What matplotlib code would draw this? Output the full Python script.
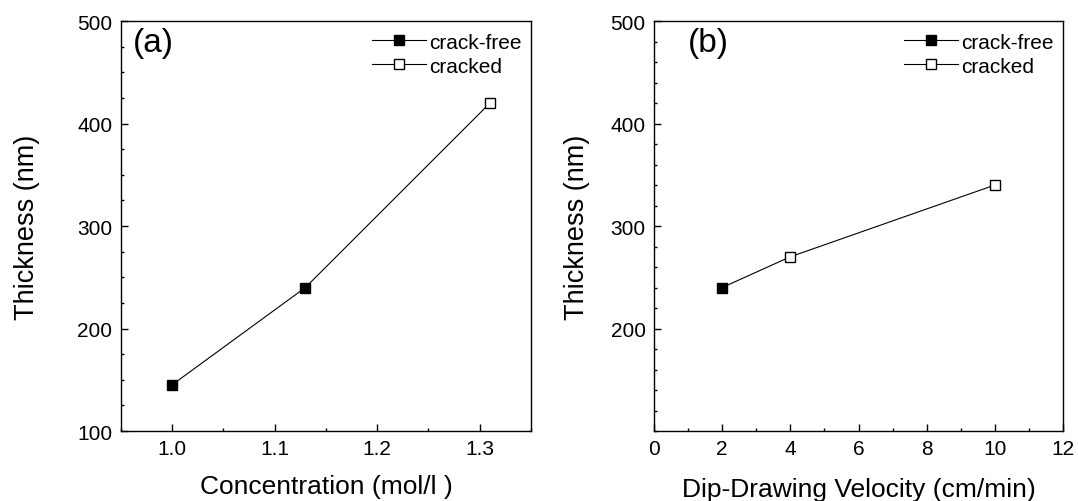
import matplotlib
matplotlib.use("Agg")
import matplotlib.pyplot as plt
from matplotlib.ticker import MultipleLocator, FixedLocator
from matplotlib.lines import Line2D

plt.rcParams['font.family'] = ['Liberation Sans', 'DejaVu Sans']

# Panel (a)
conc = [1.0, 1.13, 1.31]
thick_a = [145, 240, 420]
cracked_a = [False, False, True]

# Panel (b)
vel = [2, 4, 10]
thick_b = [240, 270, 340]
cracked_b = [False, True, True]

fig = plt.figure(figsize=(10.78, 5.02), dpi=100)
axa = fig.add_axes([0.112, 0.1394, 0.3806, 0.8167])
axb = fig.add_axes([0.6067, 0.1394, 0.3794, 0.8167])

def draw(ax, x, y, cracked):
    ax.plot(x, y, color='black', lw=0.8, zorder=2)
    for xi, yi, c in zip(x, y, cracked):
        ax.plot([xi], [yi], marker='s', ms=7, mec='black', mew=1.0,
                mfc='white' if c else 'black', ls='none', zorder=3)
    h1 = Line2D([], [], color='black', lw=0.8, marker='s', ms=7, mfc='black', mec='black')
    h2 = Line2D([], [], color='black', lw=0.8, marker='s', ms=7, mfc='white', mec='black')
    ax.legend([h1, h2], ['crack-free', 'cracked'], loc='upper right', frameon=False,
              fontsize=15, handlelength=2.6, handletextpad=0.15, labelspacing=0.25,
              borderaxespad=0.0, borderpad=0.0, bbox_to_anchor=(0.978, 0.972))
    for s in ax.spines.values():
        s.set_linewidth(1.0)
    ax.tick_params(which='major', direction='in', length=5, width=1, labelsize=15, pad=6)
    ax.tick_params(which='minor', direction='in', length=2.5, width=1)

draw(axa, conc, thick_a, cracked_a)
axa.set_xlim(0.95, 1.35)
axa.set_ylim(100, 500)
axa.xaxis.set_major_locator(FixedLocator([1.0, 1.1, 1.2, 1.3]))
axa.xaxis.set_minor_locator(MultipleLocator(0.05))
axa.yaxis.set_major_locator(MultipleLocator(100))
axa.yaxis.set_minor_locator(MultipleLocator(25))
axa.set_xticklabels(['1.0', '1.1', '1.2', '1.3'])
axa.set_xlabel('Concentration (mol/l )', fontsize=19)
axa.set_ylabel('Thickness (nm)', fontsize=19.5)
axa.xaxis.set_label_coords(0.5, -0.105)
axa.yaxis.set_label_coords(-0.197, 0.5)
axa.text(0.03, 0.985, '(a)', transform=axa.transAxes, fontsize=24, va='top', ha='left')

draw(axb, vel, thick_b, cracked_b)
axb.set_xlim(0, 12)
axb.set_ylim(100, 500)
axb.xaxis.set_major_locator(MultipleLocator(2))
axb.xaxis.set_minor_locator(MultipleLocator(1))
axb.yaxis.set_major_locator(FixedLocator([200, 300, 400, 500]))
axb.yaxis.set_minor_locator(MultipleLocator(20))
axb.set_xlabel('Dip-Drawing Velocity (cm/min)', fontsize=19)
axb.set_ylabel('Thickness (nm)', fontsize=19.5)
axb.xaxis.set_label_coords(0.5, -0.112)
axb.yaxis.set_label_coords(-0.156, 0.5)
axb.text(0.083, 0.985, '(b)', transform=axb.transAxes, fontsize=24, va='top', ha='left')

fig.savefig('out.png', dpi=100)
